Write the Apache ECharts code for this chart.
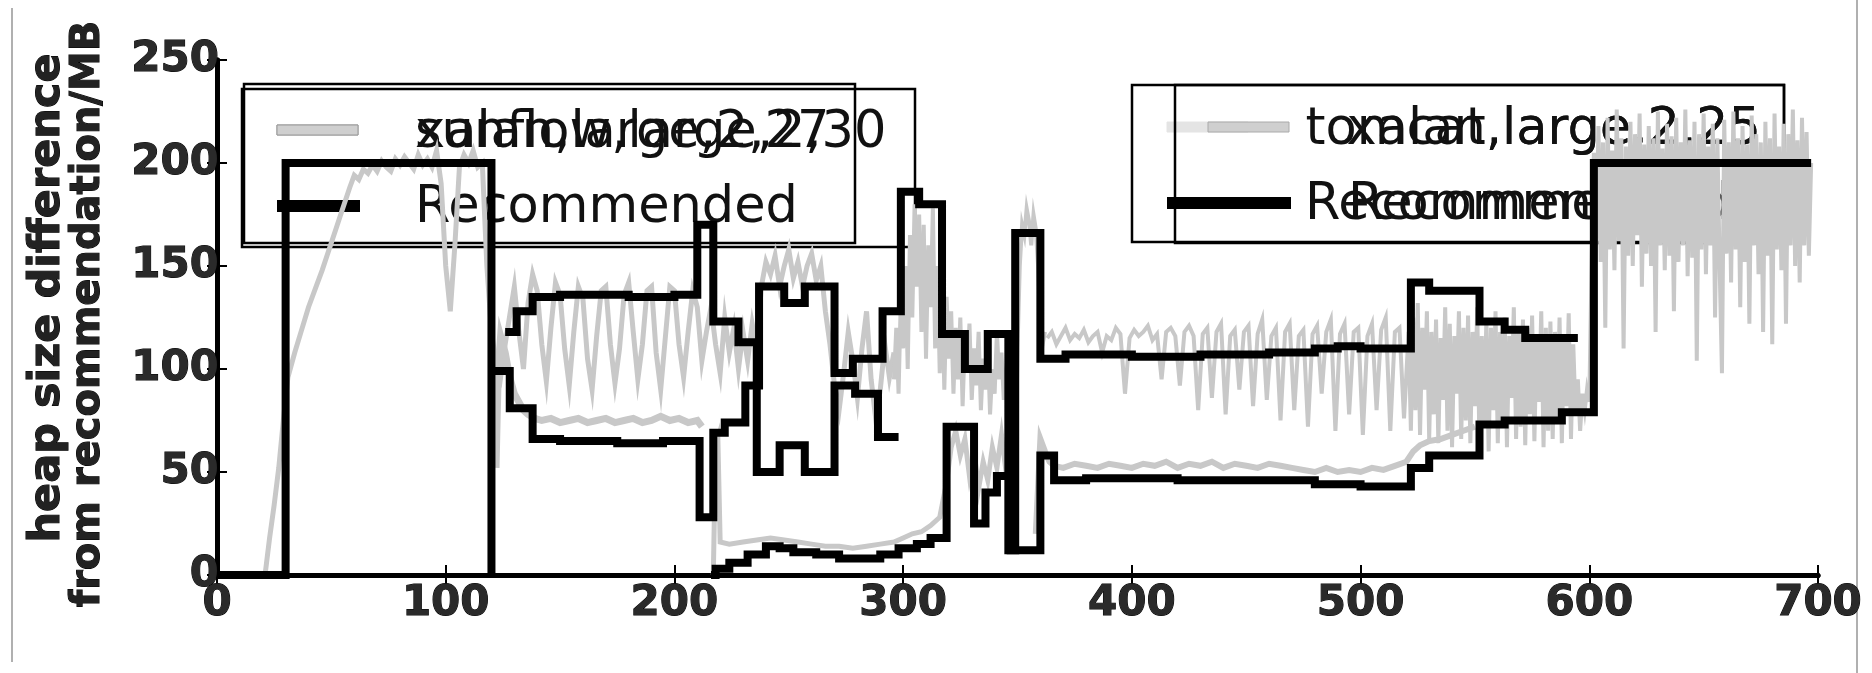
<!DOCTYPE html>
<html>
<head>
<meta charset="utf-8">
<script src="https://cdn.jsdelivr.net/npm/echarts/dist/echarts.min.js"></script>
<style>
  html, body { margin: 0; padding: 0; background: #fff; overflow: hidden; }
  #chart { width: 1872px; height: 673px; }
</style>
</head>
<body>
<div id="chart"></div>
<script>
// ---- measured heap traces (x = time step, y = MB above recommendation) ----
const traceSunflow = [
  [18,0],[21,0],[23,18],[25,34],[27,52],[29,75],[31,96],[34,108],[37,119],[40,130],[43,139],[46,148],
  [49,158],[52,168],[55,178],[58,188],[60,194],[62,192],[64,197],[66,195],[68,199],[70,196],[72,201],
  [74,198],[76,196],[78,202],[80,199],[82,203],[84,200],[86,197],[88,204],[90,199],[92,202],[94,198],
  [96,206],[98,190],[100,150],[102,128],[104,160],[106,198],[108,204],[110,200],[112,206],[114,198],
  [116,200],[118,150],[120,118],[122,103],[124,96],[126,112],[128,126],[130,140],[132,118],[134,100],
  [136,132],[138,146],[140,138],[142,112],[144,94],[146,120],[148,142],[150,136],[152,110],[154,92],
  [156,118],[158,140],[160,134],[162,105],[164,90],[166,116],[168,138],[170,140],[172,112],[174,93],
  [176,110],[178,136],[180,142],[182,118],[184,95],[186,112],[188,138],[190,140],[192,108],[194,90],
  [196,115],[198,140],[200,138],[202,112],[204,96],[206,118],[208,138],[210,130],[212,104],[214,118],
  [216,130],[218,112],[220,98],[222,125],[224,108],[226,120],[228,100],[230,118],[232,104],[234,122],
  [236,110],[238,140],[240,152],[242,146],[244,155],[246,140],[248,150],[250,158],[252,144],[254,152],
  [256,140],[258,150],[260,156],[262,143],[264,150],[266,128],[268,112],[270,92],[272,80],[274,98],
  [276,118],[278,104],[280,86],[282,110],[284,128],[286,95],[288,76],[290,90],[292,112],[294,96],[296,108]
];
const traceBandMid = [
  [122,52],[123,100],[124,116],[126,108],[128,96],[130,88],[132,84],[134,80],[136,78],[139,76],[142,75],
  [146,76],[150,74],[154,75],[158,76],[162,74],[166,75],[170,76],[174,74],[178,75],[182,76],[186,74],
  [190,75],[194,77],[198,75],[202,76],[206,74],[210,75],[212,72]
];
const traceBandLow = [
  [217,0],[218,62],[219,66],[220,16],[224,15],[230,16],[236,17],[242,18],[248,17],[254,16],[260,15],
  [266,14],[272,14],[278,13],[284,14],[290,15],[296,16],[300,18],[304,20],[308,21],[312,24],[316,28],
  [319,45],[321,62],[323,70],[325,58],[327,66],[329,48],[331,60],[333,42],[335,55],[337,46],[339,62],
  [341,52],[343,68],[345,50]
];
const traceBurst = [
  [296,95],[297,120],[298,88],[299,135],[300,110],[301,150],[302,100],[303,165],[304,125],[305,180],
  [306,140],[307,175],[308,118],[309,170],[310,105],[311,160],[312,130],[313,178],[314,110],[315,150],
  [316,98],[317,140],[318,90],[319,135],[320,105],[321,128],[322,88],[323,120],[324,95],[325,125],
  [326,82],[327,115],[328,100],[329,122],[330,85],[331,110],[332,92],[333,118],[334,80],[335,105],
  [336,90],[337,112],[338,78],[339,100],[340,88],[341,118],[342,95],[343,108],[344,85],[345,98],[346,110],
  [347,30],[348,15],[349,40],[350,110],[351,150],[352,170],[353,165],[354,178],[355,172],[356,160],
  [357,175],[358,168],[359,150],[360,120],[361,112],[362,118]
];
const traceTomcat = [
  [363,115],[365,118],[367,112],[369,116],[371,120],[373,114],[375,117],[377,115],[379,119],[381,113],
  [383,116],[385,118],[387,108],[389,116],[391,114],[393,120],[395,117],[397,88],[399,115],[401,119],
  [403,116],[405,118],[407,121],[409,114],[411,117],[413,95],[415,118],[417,120],[419,116],[421,92],
  [423,118],[425,121],[427,116],[429,80],[431,117],[433,120],[435,86],[437,118],[439,122],[441,78],
  [443,116],[445,119],[447,90],[449,118],[451,121],[453,82],[455,117],[457,124],[459,85],[461,116],
  [463,120],[465,75],[467,118],[469,122],[471,80],[473,116],[475,119],[477,72],[479,117],[481,121],
  [483,88],[485,118],[487,124],[489,70],[491,117],[493,122],[495,78],[497,118],[499,120],[501,68],
  [503,116],[505,122],[507,80],[509,119],[511,125],[513,70],[515,118],[517,120],[519,76],[521,118],
  [522,70],[523,125],[524,80],[525,132],[526,68],[527,120],[528,90],[529,128],[530,66],[531,118],
  [532,78],[533,124],[534,64],[535,115],[536,85],[537,130],[538,70],[539,122],[540,62],[541,116],
  [542,88],[543,128],[544,66],[545,120],[546,75],[547,126],[548,64],[549,118],[550,82],[551,130],
  [552,62],[553,116],[554,72],[555,124],[556,60],[557,120],[558,80],[559,128],[560,64],[561,118],
  [562,74],[563,125],[564,62],[565,116],[566,86],[567,130],[568,66],[569,118],[570,72],[571,124],
  [572,63],[573,120],[574,78],[575,126],[576,65],[577,117],[578,84],[579,128],[580,62],[581,120],
  [582,70],[583,123],[584,66],[585,118],[586,75],[587,125],[588,64],[589,116],[590,82],[591,127],
  [592,66],[593,112],[594,78],[595,95],[596,70],[597,88],[598,80],[599,90],[600,84]
];
const traceTomcatLow = [
  [358,20],[360,66],[362,60],[364,55],[366,53],[370,52],[375,54],[380,53],[385,52],[390,54],[395,53],
  [400,52],[405,54],[410,53],[415,55],[420,52],[425,54],[430,53],[435,55],[440,52],[445,54],[450,53],
  [455,52],[460,54],[465,53],[470,52],[475,51],[480,50],[485,52],[490,50],[495,51],[500,50],[505,52],
  [510,51],[515,53],[520,55],[523,60],[526,63],[530,65],[535,66],[540,68],[545,70],[550,72]
];
const traceXalan = [
  [600,84],[601,150],[602,205],[603,160],[604,218],[605,152],[606,210],[607,120],[608,222],[609,158],
  [610,206],[611,148],[612,226],[613,162],[614,212],[615,110],[616,208],[617,155],[618,220],[619,150],
  [620,214],[621,165],[622,224],[623,140],[624,209],[625,156],[626,218],[627,150],[628,212],[629,118],
  [630,225],[631,160],[632,207],[633,148],[634,219],[635,155],[636,213],[637,128],[638,222],[639,152],
  [640,210],[641,160],[642,226],[643,145],[644,211],[645,154],[646,220],[647,104],[648,214],[649,158],
  [650,224],[651,146],[652,208],[653,160],[654,219],[655,125],[656,212],[657,150],[658,98],[659,221],
  [660,156],[661,210],[662,142],[663,225],[664,158],[665,212],[666,130],[667,218],[668,152],[669,209],
  [670,122],[671,223],[672,160],[673,214],[674,146],[675,210],[676,118],[677,220],[678,155],[679,212],
  [680,112],[681,224],[682,158],[683,208],[684,148],[685,219],[686,122],[687,214],[688,160],[689,226],
  [690,150],[691,211],[692,142],[693,222],[694,160],[695,215],[696,155],[697,200]
];

// ---- recommended heap sizes (step functions: value holds from x until next x) ----
const recSunflow = [[0,0],[30,200],[120,0]];
const recUpper = [
  [120,99],[128,81],[138,66],[150,65],[175,64],[195,65],[211,28],[217,69],[222,74],[231,92],[237,140],
  [248,132],[257,140],[270,98],[278,105],[291,128],[299,186],[307,180],[317,117],[327,100],[337,117],
  [346,12],[349,166],[360,105],[371,107],[400,106],[430,107],[460,108],[480,110],[490,111],[500,110],
  [522,142],[530,138],[552,123],[563,119],[572,115],[595,115]
];
const recMid = [
  [126,118],[131,128],[138,135],[150,136],[180,135],[200,136],[210,170],[217,123],[228,113],[236,50],
  [246,63],[257,50],[270,92],[279,88],[289,67],[298,67]
];
const recLower = [
  [216,0],[218,3],[224,6],[232,10],[240,14],[246,13],[252,11],[262,10],[272,8],[282,8],[290,10],
  [298,13],[306,15],[312,18],[319,72],[331,25],[336,40],[341,48],[347,12],[360,58],[366,46],[380,47],
  [420,46],[460,46],[480,44],[500,43],[522,52],[530,58],[552,73],[563,75],[588,79],[602,200],[697,200]
];

// ---- legend entries and titles ----
const legendLeft  = ['sunflow,large,2,30', 'xalan,large,2,27'];
const legendRight = ['tomcat,large,2,25', 'xalan,large,2,25'];
const recLabel = 'Recommended';
const yTitleLines = ['heap size difference', 'from recommendation/MB'];

const GRAY = '#c8c8c8';
const FONT = '"DejaVu Sans", sans-serif';

function grayTrace(data, width) {
  return { type: 'line', data, symbol: 'none', silent: true, z: 2,
           lineStyle: { color: GRAY, width: width || 4, join: 'miter' } };
}
function recStep(data) {
  return { type: 'line', step: 'end', data, symbol: 'none', silent: true, z: 3,
           lineStyle: { color: '#000', width: 8, join: 'miter' } };
}

const axisLine = { show: true, lineStyle: { color: '#000', width: 5 } };
const tick = { show: true, inside: true, length: 10, lineStyle: { color: '#000', width: 2 } };
const tickLabel = { fontFamily: FONT, fontSize: 42, fontWeight: 'bold', color: '#2a2a2a',
                    textBorderColor: '#000', textBorderWidth: 1 };

// legend frame, line handles and texts
function legendFrames(boxes) {
  const els = [];
  boxes.forEach(b => {
    els.push({ type: 'rect', shape: { x: b.x, y: b.y, width: b.w, height: b.h },
               style: { fill: null, stroke: '#000', lineWidth: 2.5 } });
    els.push({ type: 'rect', shape: { x: b.hx, y: b.gy - 5, width: 81, height: 10 },
               style: { fill: b.grayFill, stroke: b.grayStroke, lineWidth: 1 } });
    els.push({ type: 'rect', shape: { x: b.hx, y: b.ry - 6, width: 83, height: 12 },
               style: { fill: '#000' } });
  });
  return els;
}
function legendText(x, y, text, align) {
  return { type: 'text', x, y,
           style: { text, font: '51px ' + FONT, fill: '#111', align, verticalAlign: 'middle' } };
}

const legendEls = []
  .concat(legendFrames([
    { x: 242, y: 89, w: 673, h: 158, hx: 277, gy: 130, ry: 206, grayFill: '#cfcfcf', grayStroke: '#999' },
    { x: 244, y: 84, w: 611, h: 159, hx: 277, gy: 130, ry: 206, grayFill: '#cfcfcf', grayStroke: '#999' }
  ]))
  .concat([
    legendText(415, 134, legendLeft[0], 'left'),
    legendText(415, 134, legendLeft[1], 'left'),
    legendText(415, 209, recLabel, 'left')
  ])
  .concat(legendFrames([
    { x: 1132, y: 85, w: 652, h: 157, hx: 1167, gy: 127, ry: 203, grayFill: '#e4e4e4', grayStroke: '#e4e4e4' },
    { x: 1175, y: 85, w: 609, h: 158, hx: 1208, gy: 127, ry: 203, grayFill: '#cfcfcf', grayStroke: '#aaa' }
  ]))
  .concat([
    legendText(1761, 131, legendRight[0], 'right'),
    legendText(1761, 131, legendRight[1], 'right'),
    legendText(1305, 206, recLabel, 'left'),
    legendText(1348, 206, recLabel, 'left')
  ]);

const chart = echarts.init(document.getElementById('chart'), null, { renderer: 'canvas' });
chart.setOption({
  animation: false,
  backgroundColor: '#fff',
  grid: { left: 217, right: 54, top: 60, bottom: 98, containLabel: false },
  xAxis: [
    { type: 'value', min: 0, max: 700, interval: 100, position: 'bottom',
      axisLine, axisTick: tick, splitLine: { show: false },
      axisLabel: Object.assign({ margin: 8 }, tickLabel) },
    { type: 'value', min: 0, max: 700, interval: 100, position: 'top',
      axisLine, axisTick: tick, splitLine: { show: false }, axisLabel: { show: false } }
  ],
  yAxis: [
    { type: 'value', min: 0, max: 250, interval: 50, position: 'left',
      axisLine, axisTick: tick, splitLine: { show: false },
      axisLabel: Object.assign({ margin: -2 }, tickLabel) },
    { type: 'value', min: 0, max: 250, interval: 50, position: 'right',
      axisLine, axisTick: tick, splitLine: { show: false }, axisLabel: { show: false } }
  ],
  graphic: [
    { type: 'line', shape: { x1: 12, y1: 8, x2: 12, y2: 662 }, style: { stroke: '#b0b0b0', lineWidth: 2 } },
    { type: 'line', shape: { x1: 1857, y1: 0, x2: 1857, y2: 673 }, style: { stroke: '#b0b0b0', lineWidth: 2 } },
    { type: 'text', x: 48, y: 298, rotation: Math.PI / 2,
      style: { text: yTitleLines[0], font: 'bold 43px ' + FONT, fill: '#222', stroke: '#000', lineWidth: 1,
               align: 'center', verticalAlign: 'middle' } },
    { type: 'text', x: 89, y: 314, rotation: Math.PI / 2,
      style: { text: yTitleLines[1], font: 'bold 40px ' + FONT, fill: '#222', stroke: '#000', lineWidth: 1,
               align: 'center', verticalAlign: 'middle' } }
  ].concat(legendEls),
  series: [
    grayTrace(traceSunflow, 5),
    grayTrace(traceBandMid, 7),
    grayTrace(traceBandLow, 5),
    grayTrace(traceBurst, 4),
    grayTrace(traceTomcat, 4),
    grayTrace(traceXalan, 4),
    grayTrace(traceTomcatLow, 6),
    recStep(recSunflow),
    recStep(recUpper),
    recStep(recMid),
    recStep(recLower)
  ]
});
</script>
</body>
</html>
